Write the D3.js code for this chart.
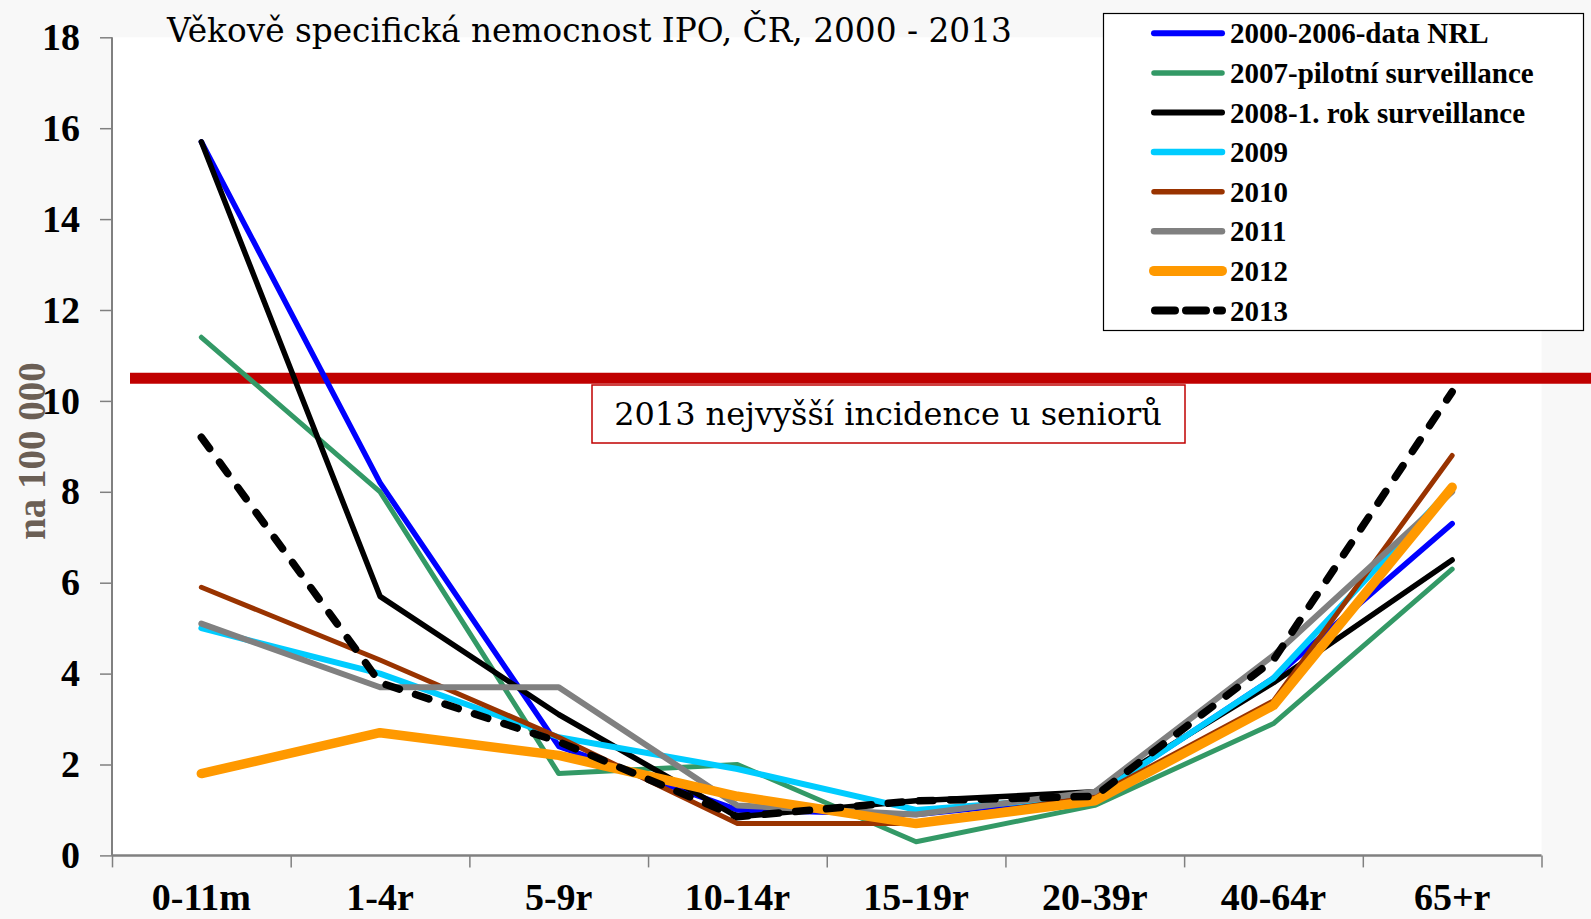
<!DOCTYPE html>
<html><head><meta charset="utf-8">
<script src="https://cdn.jsdelivr.net/npm/d3@7"></script>
<style>body{margin:0;background:#f8f8f8;} svg{display:block}</style>
</head><body><svg id="c" width="1591" height="919"></svg>
<script>
const categories = ["0-11m","1-4r","5-9r","10-14r","15-19r","20-39r","40-64r","65+r"];
const seriesNames = ["2000-2006-data NRL","2007-pilotní surveillance","2008-1. rok surveillance","2009","2010","2011","2012","2013"];
const s2000_2006 = [15.7, 8.2, 2.4, 1.0, 0.9, 1.3, 3.9, 7.3];
const s2007 = [11.4, 8.0, 1.8, 2.0, 0.3, 1.1, 2.9, 6.3];
const s2008 = [15.7, 5.7, 3.1, 0.85, 1.2, 1.4, 3.8, 6.5];
const s2009 = [5.0, 4.0, 2.6, 1.9, 1.0, 1.3, 3.9, 8.1];
const s2010 = [5.9, 4.3, 2.6, 0.7, 0.7, 1.3, 3.4, 8.8];
const s2011 = [5.1, 3.7, 3.7, 1.1, 0.9, 1.4, 4.4, 8.0];
const s2012 = [1.8, 2.7, 2.2, 1.3, 0.7, 1.2, 3.3, 8.1];
const s2013 = [9.2, 3.8, 2.5, 0.85, 1.2, 1.3, 4.3, 10.2];
const yTicks = [0,2,4,6,8,10,12,14,16,18];
const thresholdValue = 10.5;
const titleText = "Věkově specifická nemocnost IPO, ČR, 2000 - 2013";
const annotationText = "2013 nejvyšší incidence u seniorů";
const yLabelText = "na 100 000";

const seriesValues = [s2000_2006, s2007, s2008, s2009, s2010, s2011, s2012, s2013];
const styles = [
  {color:"#0000ff", w:5.5},
  {color:"#339966", w:5},
  {color:"#000000", w:5.5},
  {color:"#00ccff", w:6},
  {color:"#993300", w:5},
  {color:"#808080", w:6},
  {color:"#ff9900", w:9.5},
  {color:"#000000", w:7.5, dash:"14,17"}
];

const svg = d3.select("#c");
const L = 112, R = 1541.5, T = 37.3, B = 855.4;
const x = d3.scaleBand().domain(categories).range([L, R]).padding(0);
const xb = d3.scaleLinear().domain([0, categories.length]).range([L, R]);
const y = d3.scaleLinear().domain([0, 18]).range([B, T]);
const cx = c => x(c) + x.bandwidth()/2;

// plot area
svg.append("rect").attr("x", L).attr("y", T).attr("width", R - L).attr("height", B - T).attr("fill", "#ffffff");

// axes
const yAxis = svg.append("g").attr("transform", `translate(${L},0)`)
  .call(d3.axisLeft(y).tickValues(yTicks).tickSize(12).tickPadding(20).tickFormat(d3.format("d")));
yAxis.select(".domain").attr("stroke", "#808080").attr("stroke-width", 2).attr("d", `M0,${T}V${B}`);
yAxis.selectAll(".tick line").attr("stroke", "#808080").attr("stroke-width", 1.5);
yAxis.selectAll(".tick text").attr("font-family", "'Liberation Serif', serif").attr("font-weight", "bold")
  .attr("font-size", 38).attr("fill", "#000");

const xTickG = svg.append("g").attr("transform", `translate(0,${B})`)
  .call(d3.axisBottom(xb).tickValues(d3.range(categories.length + 1)).tickSize(12).tickFormat(""));
xTickG.select(".domain").attr("stroke", "#808080").attr("stroke-width", 2.5).attr("d", `M${L},0H${R}`);
xTickG.selectAll(".tick line").attr("stroke", "#808080").attr("stroke-width", 1.5);

const xLab = svg.append("g").attr("transform", `translate(0,${B})`)
  .call(d3.axisBottom(x).tickSize(0).tickPadding(0));
xLab.select(".domain").remove();
xLab.selectAll(".tick text").attr("font-family", "'Liberation Serif', serif").attr("font-weight", "bold")
  .attr("font-size", 38).attr("fill", "#000").attr("dy", null).attr("y", 55);

// y label
svg.append("text").attr("transform", "translate(45,451) rotate(-90)")
  .attr("text-anchor", "middle").attr("font-family", "'Liberation Serif', serif").attr("font-weight", "bold")
  .attr("font-size", 39).attr("fill", "#6b5f55").text(yLabelText);

// title
const title = svg.append("text").attr("x", 167).attr("y", 42)
  .attr("font-family", "'DejaVu Serif', serif").attr("font-size", 34).attr("fill", "#000").text(titleText);
{
  const w = title.node().getComputedTextLength();
  title.attr("font-size", 34 * 845 / w);
}

// red threshold line
svg.append("line").attr("x1", 130).attr("x2", 1591).attr("y1", y(thresholdValue)).attr("y2", y(thresholdValue))
  .attr("stroke", "#c00000").attr("stroke-width", 11);

// annotation box
svg.append("rect").attr("x", 592).attr("y", 385).attr("width", 593).attr("height", 58)
  .attr("fill", "#ffffff").attr("stroke", "#c00000").attr("stroke-width", 1.5);
const ann = svg.append("text").attr("x", 888).attr("y", 425).attr("text-anchor", "middle")
  .attr("font-family", "'DejaVu Serif', serif").attr("font-size", 28).attr("fill", "#000").text(annotationText);
{
  const w = ann.node().getComputedTextLength();
  ann.attr("font-size", 28 * 548 / w);
}

// series lines
const line = d3.line().x((d, i) => cx(categories[i])).y(d => y(d));
seriesValues.forEach((vals, k) => {
  const st = styles[k];
  const p = svg.append("path").attr("d", line(vals)).attr("fill", "none")
    .attr("stroke", st.color).attr("stroke-width", st.w)
    .attr("stroke-linejoin", "round").attr("stroke-linecap", "round");
  if (st.dash) p.attr("stroke-dasharray", st.dash);
});

// legend
const lg = svg.append("g");
lg.append("rect").attr("x", 1103.5).attr("y", 13.5).attr("width", 480).attr("height", 317)
  .attr("fill", "#ffffff").attr("stroke", "#000").attr("stroke-width", 1.2);
seriesNames.forEach((name, k) => {
  const st = styles[k];
  const yy = 33.3 + k * 39.6;
  const l = lg.append("line").attr("x1", 1154).attr("x2", 1222).attr("y1", yy).attr("y2", yy)
    .attr("stroke", st.color).attr("stroke-width", st.w + 0.5).attr("stroke-linecap", "round");
  if (st.dash) l.attr("stroke-dasharray", "20,11").attr("x1", 1155);
  lg.append("text").attr("x", 1230).attr("y", yy + 10).attr("font-family", "'Liberation Serif', serif")
    .attr("font-weight", "bold").attr("font-size", 29).attr("fill", "#000").text(name);
});
</script></body></html>
